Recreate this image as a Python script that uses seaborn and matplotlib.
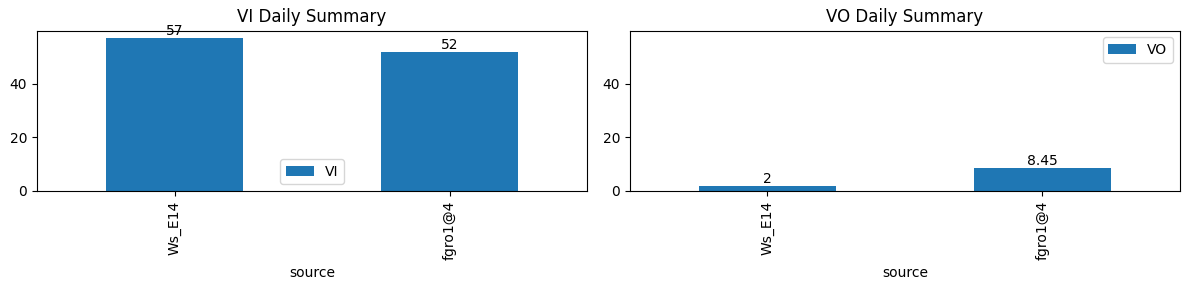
import matplotlib
matplotlib.use("Agg")
import matplotlib.pyplot as plt
import seaborn as sns
import pandas as pd

sources = ["Ws_E14", "fgro1@4"]
vi_values = [57, 52]
vo_values = [2, 8.45]

df = pd.DataFrame({"source": sources, "VI": vi_values, "VO": vo_values})

fig, axes = plt.subplots(1, 2, figsize=(11.89, 2.9), dpi=100)
color = "#1f77b4"
ymax = max(max(vi_values), max(vo_values)) * 1.05

for ax, col, loc in zip(axes, ["VI", "VO"], ["lower center", "upper right"]):
    sns.barplot(data=df, x="source", y=col, ax=ax, color=color, saturation=1,
                width=0.5, label=col, errorbar=None)
    ax.set_xlim(-0.5, len(sources) - 0.5)
    ax.set_ylim(0, ymax)
    ax.set_ylabel("")
    ax.set_xlabel("source")
    ax.set_title(f"{col} Daily Summary")
    ax.tick_params(axis="x", rotation=90)
    for c in ax.containers:
        ax.bar_label(c, labels=[f"{v:g}" for v in df[col]])
    ax.legend(loc=loc)

fig.subplots_adjust(left=37 / 1189, right=1180 / 1189, top=1 - 30.5 / 290,
                    bottom=1 - 191 / 290, wspace=0.078)
fig.savefig("out.png", dpi=100)
